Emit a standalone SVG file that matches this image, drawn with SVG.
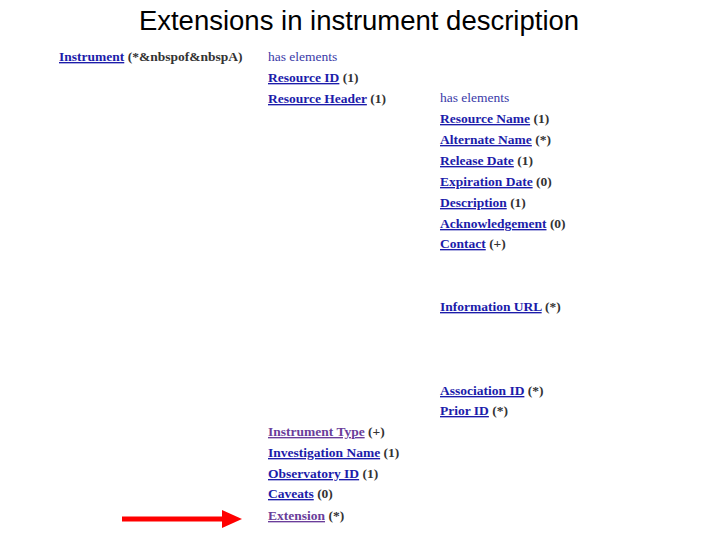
<svg xmlns="http://www.w3.org/2000/svg" width="720" height="540" viewBox="0 0 720 540">
<style>
.t{font-family:"Liberation Serif","Times New Roman",serif;font-size:13.5px;font-weight:bold;fill:#333}
.l{fill:#1c1caa;text-decoration:underline}
.v{fill:#6a3d9a;text-decoration:underline}
.h{font-family:"Liberation Serif","Times New Roman",serif;font-size:13.5px;fill:#3a3aa8}
.title{font-family:"Liberation Sans",Arial,sans-serif;font-size:27.5px;fill:#000}
</style>
<rect width="720" height="540" fill="#fff"/>
<text class="title" x="359" y="30" text-anchor="middle">Extensions in instrument description</text>
<g id="instrument"><text class="t" x="59" y="61"><tspan class="l">Instrument</tspan> (*&amp;nbspof&amp;nbspA)</text></g>
<g id="col1">
<text class="h" x="268" y="61">has elements</text>
<text class="t" x="268" y="82"><tspan class="l">Resource ID</tspan> (1)</text>
<text class="t" x="268" y="103"><tspan class="l">Resource Header</tspan> (1)</text>
<text class="t" x="268" y="436"><tspan class="v">Instrument Type</tspan> (+)</text>
<text class="t" x="268" y="457"><tspan class="l">Investigation Name</tspan> (1)</text>
<text class="t" x="268" y="478"><tspan class="l">Observatory ID</tspan> (1)</text>
<text class="t" x="268" y="498"><tspan class="l">Caveats</tspan> (0)</text>
<text class="t" x="268" y="520"><tspan class="v">Extension</tspan> (*)</text>
</g>
<g id="col2">
<text class="h" x="440" y="102">has elements</text>
<text class="t" x="440" y="123"><tspan class="l">Resource Name</tspan> (1)</text>
<text class="t" x="440" y="144"><tspan class="l">Alternate Name</tspan> (*)</text>
<text class="t" x="440" y="165"><tspan class="l">Release Date</tspan> (1)</text>
<text class="t" x="440" y="186"><tspan class="l">Expiration Date</tspan> (0)</text>
<text class="t" x="440" y="207"><tspan class="l">Description</tspan> (1)</text>
<text class="t" x="440" y="228"><tspan class="l">Acknowledgement</tspan> (0)</text>
<text class="t" x="440" y="248"><tspan class="l">Contact</tspan> (+)</text>
<text class="t" x="440" y="311"><tspan class="l">Information URL</tspan> (*)</text>
<text class="t" x="440" y="395"><tspan class="l">Association ID</tspan> (*)</text>
<text class="t" x="440" y="415"><tspan class="l">Prior ID</tspan> (*)</text>
</g>
<g id="connectors">
<line x1="122" y1="519" x2="226" y2="519" stroke="#f00" stroke-width="5"/>
<polygon points="222,510 242,519 222,528" fill="#f00"/>
</g>
</svg>
